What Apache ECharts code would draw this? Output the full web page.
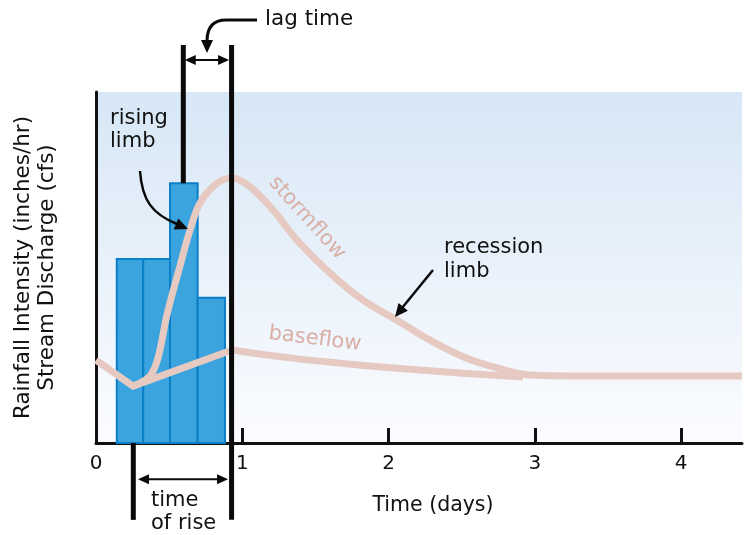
<!DOCTYPE html>
<html>
<head>
    <meta charset="UTF-8">
    <title>Hydrograph</title>
    <style>
        html, body {
            margin: 0;
            padding: 0;
            width: 100%;
            height: 100%;
            overflow: hidden;
            background: #ffffff;
        }
        #main {
            width: 747px;
            height: 535px;
        }
    </style>
    <script src="https://cdn.jsdelivr.net/npm/echarts@6/dist/echarts.min.js"></script>
</head>
<body>
    <div id="main"></div>

    <script>
        // x tick labels (days)
        const dayTicks = [0, 1, 2, 3, 4];

        // rainfall bars: [start day, end day, intensity]
        const rainBars = [
            [0.142, 0.323, 5.24],
            [0.323, 0.506, 5.24],
            [0.506, 0.695, 7.40],
            [0.695, 0.882, 4.14]
        ];

        // baseflow curve [day, discharge]
        const baseflow = [
            [0.000, 2.36], [0.253, 1.62], [0.930, 2.65], [1.142, 2.52],
            [1.395, 2.39], [1.826, 2.21], [2.215, 2.08], [2.509, 1.99],
            [2.920, 1.88]
        ];

        // stormflow curve [day, discharge]
        const stormflow = [
            [0.253, 1.62], [0.369, 1.91], [0.424, 2.42], [0.485, 3.65],
            [0.574, 5.04], [0.643, 6.07], [0.711, 6.84], [0.821, 7.38],
            [0.930, 7.55], [1.053, 7.30], [1.210, 6.64], [1.374, 5.78],
            [1.600, 4.84], [1.826, 4.07], [2.058, 3.50], [2.284, 2.93],
            [2.509, 2.46], [2.742, 2.14], [2.967, 1.94], [3.446, 1.91],
            [4.417, 1.91]
        ];

        // vertical marker lines [day, y top, y bottom]
        const markerLines = [
            [0.597, 11.34, 7.40],
            [0.927, 11.34, -2.19],
            [0.255, 0, -2.19]
        ];

        // double arrows [day from, day to, y]
        const spanArrows = [
            [0.607, 0.910, 10.91],
            [0.287, 0.903, -1.03]
        ];

        const FONT = '"DejaVu Sans", sans-serif';
        const flowColor = '#e6cac2';
        const labelColor = '#d9afa6';

        const chart = echarts.init(document.getElementById('main'));

        function arrowHead(tip, dir, len, half) {
            const nx = -dir[1], ny = dir[0];
            return [
                [tip[0], tip[1]],
                [tip[0] - dir[0] * len + nx * half, tip[1] - dir[1] * len + ny * half],
                [tip[0] - dir[0] * len - nx * half, tip[1] - dir[1] * len - ny * half]
            ];
        }

        const option = {
            animation: false,
            grid: {
                left: 96, right: 5, top: 92, bottom: 92,
                show: true,
                borderWidth: 0,
                backgroundColor: {
                    type: 'linear', x: 0, y: 0, x2: 0, y2: 1,
                    colorStops: [
                        { offset: 0, color: '#d7e7f6' },
                        { offset: 1, color: '#fbfcff' }
                    ]
                }
            },
            xAxis: {
                type: 'value',
                min: 0,
                max: 4.417,
                interval: 1,
                name: 'Time (days)',
                nameLocation: 'middle',
                nameGap: 52,
                nameTextStyle: { fontFamily: FONT, fontSize: 20.5, color: '#111', padding: [0, 0, 0, 28] },
                splitLine: { show: false },
                axisLine: { lineStyle: { color: '#111', width: 3 } },
                axisTick: {
                    inside: true, length: 15,
                    customValues: dayTicks,
                    lineStyle: { color: '#111', width: 3 }
                },
                axisLabel: {
                    customValues: dayTicks,
                    fontFamily: FONT, fontSize: 20, color: '#111', margin: 11
                }
            },
            yAxis: {
                type: 'value',
                min: 0,
                max: 10,
                name: 'Rainfall Intensity (inches/hr)\nStream Discharge (cfs)',
                nameLocation: 'middle',
                nameRotate: 90,
                nameGap: 37,
                nameTextStyle: { fontFamily: FONT, fontSize: 21.5, color: '#111', lineHeight: 24 },
                splitLine: { show: false },
                axisTick: { show: false },
                axisLabel: { show: false },
                axisLine: { show: true, lineStyle: { color: '#111', width: 3 } }
            },
            series: [
                {
                    type: 'custom',
                    name: 'rain',
                    z: 2,
                    data: rainBars,
                    renderItem: function (params, api) {
                        const p0 = api.coord([api.value(0), api.value(2)]);
                        const p1 = api.coord([api.value(1), 0]);
                        return {
                            type: 'rect',
                            shape: { x: p0[0], y: p0[1], width: p1[0] - p0[0], height: p1[1] - p0[1] },
                            style: { fill: '#3ba3de', stroke: '#0b7fc7', lineWidth: 2 }
                        };
                    }
                },
                {
                    type: 'line',
                    name: 'baseflow',
                    z: 3,
                    data: baseflow,
                    showSymbol: false,
                    smooth: false,
                    lineStyle: { color: flowColor, width: 7, cap: 'butt', join: 'round' }
                },
                {
                    type: 'line',
                    name: 'stormflow',
                    z: 3,
                    data: stormflow,
                    showSymbol: false,
                    smooth: 0.35,
                    lineStyle: { color: flowColor, width: 7, cap: 'butt', join: 'round' }
                },
                {
                    type: 'custom',
                    name: 'markers',
                    z: 5,
                    clip: false,
                    data: markerLines,
                    renderItem: function (params, api) {
                        const a = api.coord([api.value(0), api.value(1)]);
                        const b = api.coord([api.value(0), api.value(2)]);
                        return {
                            type: 'line',
                            shape: { x1: a[0], y1: a[1], x2: b[0], y2: b[1] },
                            style: { stroke: '#0a0a0a', lineWidth: 5 }
                        };
                    }
                },
                {
                    type: 'custom',
                    name: 'spans',
                    z: 5,
                    clip: false,
                    data: spanArrows,
                    renderItem: function (params, api) {
                        const a = api.coord([api.value(0), api.value(2)]);
                        const b = api.coord([api.value(1), api.value(2)]);
                        return {
                            type: 'group',
                            children: [
                                { type: 'line', shape: { x1: a[0] + 6, y1: a[1], x2: b[0] - 6, y2: b[1] },
                                  style: { stroke: '#0a0a0a', lineWidth: 2 } },
                                { type: 'polygon', shape: { points: arrowHead(a, [-1, 0], 11, 5) },
                                  style: { fill: '#0a0a0a' } },
                                { type: 'polygon', shape: { points: arrowHead(b, [1, 0], 11, 5) },
                                  style: { fill: '#0a0a0a' } }
                            ]
                        };
                    }
                }
            ],
            graphic: [
                { type: 'text', x: 265, y: 19,
                  style: { text: 'lag time', font: '21.5px ' + FONT, fill: '#111', verticalAlign: 'middle' } },
                { type: 'polyline', z: 10,
                  shape: { points: [[257, 20], [226, 20]] },
                  style: { stroke: '#0a0a0a', lineWidth: 3, fill: null } },
                { type: 'bezierCurve', z: 10,
                  shape: { x1: 226, y1: 20, cpx1: 212, cpy1: 20, cpx2: 207, cpy2: 28, x2: 207, y2: 41 },
                  style: { stroke: '#0a0a0a', lineWidth: 3, fill: null } },
                { type: 'polygon', z: 10,
                  shape: { points: arrowHead([207, 53], [0, 1], 13, 6) },
                  style: { fill: '#0a0a0a' } },
                { type: 'text', x: 110, y: 107,
                  style: { text: 'rising\nlimb', font: '21px ' + FONT, lineHeight: 23, fill: '#111' } },
                { type: 'bezierCurve', z: 10,
                  shape: { x1: 140, y1: 171, cpx1: 142, cpy1: 200, cpx2: 152, cpy2: 214, x2: 177, y2: 224 },
                  style: { stroke: '#0a0a0a', lineWidth: 2.5, fill: null } },
                { type: 'polygon', z: 10,
                  shape: { points: arrowHead([188, 229], [0.92, 0.39], 13, 6) },
                  style: { fill: '#0a0a0a' } },
                { type: 'text', x: 444, y: 236,
                  style: { text: 'recession\nlimb', font: '21px ' + FONT, lineHeight: 24, fill: '#111' } },
                { type: 'line', z: 10,
                  shape: { x1: 433, y1: 270, x2: 402, y2: 308 },
                  style: { stroke: '#0a0a0a', lineWidth: 2.5 } },
                { type: 'polygon', z: 10,
                  shape: { points: arrowHead([395, 317], [-0.63, 0.78], 13, 6) },
                  style: { fill: '#0a0a0a' } },
                { type: 'text', x: 307, y: 218, rotation: -48 * Math.PI / 180,
                  style: { text: 'stormflow', font: '21px ' + FONT, fill: labelColor,
                           align: 'center', verticalAlign: 'middle' } },
                { type: 'text', x: 315, y: 339, rotation: -7 * Math.PI / 180,
                  style: { text: 'baseflow', font: '21px ' + FONT, fill: labelColor,
                           align: 'center', verticalAlign: 'middle' } },
                { type: 'text', x: 151, y: 489,
                  style: { text: 'time\nof rise', font: '21px ' + FONT, lineHeight: 23, fill: '#111' } }
            ]
        };

        chart.setOption(option);
        window.addEventListener('resize', () => chart.resize());
    </script>
</body>
</html>
